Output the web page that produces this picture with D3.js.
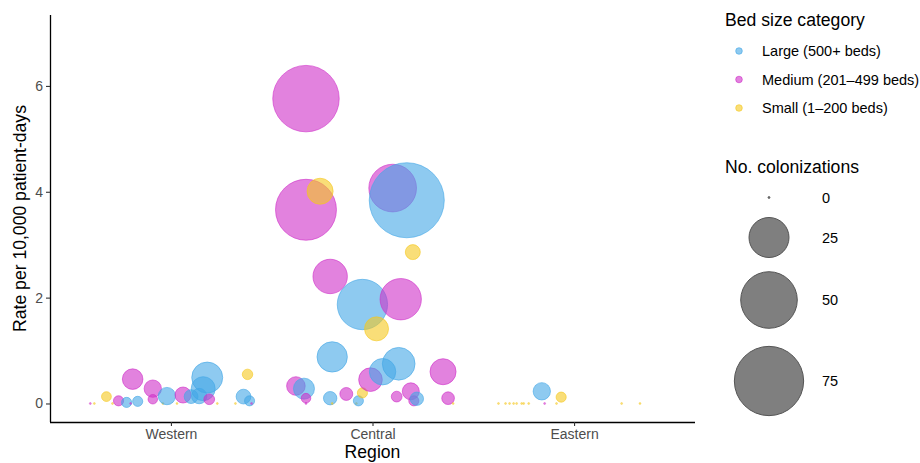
<!DOCTYPE html>
<html>
<head>
<meta charset="utf-8">
<script src="https://cdn.jsdelivr.net/npm/d3@7"></script>
<style>
  html, body { margin: 0; padding: 0; background: #fff; }
  svg { display: block; font-family: "Liberation Sans", Arial, sans-serif; }
</style>
</head>
<body>
<svg id="chart" width="920" height="463"></svg>
<script>
// ---------------- DATA ----------------
const regions = ["Western", "Central", "Eastern"];
const bedSizes = ["Large", "Medium", "Small"];
const bedSizeLabels = ["Large (500+ beds)", "Medium (201\u2013499 beds)", "Small (1\u2013200 beds)"];
const yTicks = [0, 2, 4, 6];
const sizeLegendValues = [0, 25, 50, 75];

// each point: [jitter offset (category units), rate per 10,000 patient-days, no. colonizations, bed size]
const westernPoints = [
  [-0.40, 0, 0, "Medium"], [-0.38, 0, 0, "Small"], [-0.32, 0.13, 1.5, "Small"],
  [-0.29, 0, 0, "Small"], [-0.26, 0.05, 1.6, "Medium"], [-0.22, 0.02, 1.6, "Large"],
  [-0.20, 0, 0, "Medium"], [-0.19, 0.46, 6.6, "Medium"], [-0.165, 0.04, 1.6, "Large"],
  [-0.09, 0.28, 4.7, "Medium"], [-0.09, 0.08, 1.4, "Medium"], [-0.04, 0, 0, "Small"],
  [-0.02, 0.14, 4.7, "Large"], [0.03, 0, 0, "Small"], [0.06, 0.16, 4, "Medium"],
  [0.10, 0.13, 3, "Large"], [0.14, 0.14, 3.7, "Large"], [0.16, 0.28, 9, "Large"],
  [0.18, 0.49, 15, "Large"], [0.19, 0.08, 1.8, "Medium"], [0.23, 0, 0, "Small"],
  [0.32, 0, 0, "Small"], [0.36, 0.13, 3.4, "Large"], [0.38, 0.55, 1.7, "Small"],
  [0.39, 0.05, 1.6, "Large"], [0.40, 0, 0, "Medium"]
];
const centralPoints = [
  [-0.38, 0.33, 5.4, "Medium"], [-0.34, 0.28, 6.9, "Large"], [-0.33, 0.10, 1.45, "Medium"],
  [-0.33, 0, 0, "Medium"], [-0.33, 5.76, 69, "Medium"], [-0.33, 3.66, 58, "Medium"],
  [-0.26, 4.01, 10.6, "Small"], [-0.21, 2.40, 18.5, "Medium"], [-0.21, 0.10, 2.8, "Large"],
  [-0.20, 0, 0, "Small"], [-0.20, 0.88, 14.4, "Large"], [-0.13, 0.18, 2.6, "Medium"],
  [-0.08, 0, 0, "Small"], [-0.07, 0.05, 1.6, "Large"], [-0.05, 0.20, 1.6, "Small"],
  [-0.05, 1.87, 39.6, "Large"], [-0.01, 0.45, 8.7, "Medium"], [0.02, 1.41, 9, "Small"],
  [0.05, 0.60, 10.9, "Large"], [0.10, 4.07, 35.5, "Medium"], [0.12, 0.13, 1.8, "Medium"],
  [0.13, 0.75, 16.7, "Large"], [0.14, 1.97, 26.7, "Medium"], [0.17, 3.84, 88, "Large"],
  [0.19, 0.23, 4.5, "Medium"], [0.20, 2.86, 3.5, "Small"], [0.205, 0.05, 1.6, "Medium"],
  [0.22, 0.09, 2.8, "Large"], [0.35, 0.60, 10.6, "Medium"], [0.375, 0.10, 2.5, "Medium"],
  [0.40, 0, 0, "Small"]
];
const easternPoints = [
  [-0.375, 0, 0, "Small"], [-0.34, 0, 0, "Small"], [-0.32, 0, 0, "Small"],
  [-0.30, 0, 0, "Small"], [-0.285, 0, 0, "Small"], [-0.26, 0, 0, "Small"],
  [-0.25, 0, 0, "Small"], [-0.225, 0, 0, "Small"], [-0.16, 0.23, 4.7, "Large"],
  [-0.146, 0, 0, "Medium"], [-0.087, 0, 0, "Small"], [-0.064, 0.12, 1.6, "Small"],
  [0.236, 0, 0, "Small"], [0.327, 0, 0, "Small"]
];
const regionPoints = [westernPoints, centralPoints, easternPoints];

// ---------------- STYLE / LAYOUT ----------------
const colors = { Large: "#43A7E6", Medium: "#CF2FC8", Small: "#F5C81E" };
const alpha = 0.6;
const panel = { left: 50, right: 695, top: 15, bottom: 422 };

const svg = d3.select("#chart");

const x = d3.scaleLinear().domain([0.4, 3.6]).range([panel.left, panel.right]);
const y = d3.scaleLinear().domain([-0.35, 7.34]).range([panel.bottom, panel.top]);
const r = d3.scaleSqrt().domain([0, 100]).range([0, 40]);
const radius = n => Math.max(r(n), 1);

// points
const points = [];
regionPoints.forEach((arr, i) => arr.forEach(p => points.push({
  region: regions[i], pos: i + 1 + p[0], rate: p[1], n: p[2], cat: p[3]
})));

svg.append("g").selectAll("circle").data(points).join("circle")
  .attr("cx", d => x(d.pos))
  .attr("cy", d => y(d.rate))
  .attr("r", d => radius(d.n))
  .attr("fill", d => colors[d.cat])
  .attr("fill-opacity", alpha)
  .attr("stroke", d => colors[d.cat])
  .attr("stroke-opacity", alpha)
  .attr("stroke-width", d => d.n === 0 ? 0.6 : 1);

// axes
const xAxis = d3.axisBottom(x).tickValues([1, 2, 3]).tickFormat(d => regions[d - 1]).tickSize(4).tickPadding(3);
const yAxis = d3.axisLeft(y).tickValues(yTicks).tickSize(4).tickPadding(3);

const gx = svg.append("g").attr("transform", `translate(0,${panel.bottom})`).call(xAxis);
const gy = svg.append("g").attr("transform", `translate(${panel.left},0)`).call(yAxis);

[gx, gy].forEach(g => {
  g.select(".domain").attr("stroke", "#000").attr("stroke-width", 1.3);
  g.selectAll(".tick line").attr("stroke", "#333").attr("stroke-width", 1.1);
  g.selectAll(".tick text").attr("fill", "#4d4d4d").style("font-size", "14px")
    .style("font-family", '"Liberation Sans", Arial, sans-serif');
});
gx.select(".domain").attr("d", `M${panel.left},0.5H${panel.right}`);
gy.select(".domain").attr("d", `M0.5,${panel.bottom}V${panel.top}`);

// axis titles
svg.append("text").attr("x", (panel.left + panel.right) / 2).attr("y", 458)
  .attr("text-anchor", "middle").style("font-size", "17.6px").attr("fill", "#000").text("Region");
svg.append("text").attr("transform", `translate(26,${(panel.top + panel.bottom) / 2}) rotate(-90)`)
  .attr("text-anchor", "middle").style("font-size", "17.6px").attr("fill", "#000")
  .text("Rate per 10,000 patient-days");

// legend: bed size
const lg = svg.append("g");
lg.append("text").attr("x", 725).attr("y", 26).style("font-size", "17.6px").attr("fill", "#000")
  .text("Bed size category");
const legY = [51, 79.5, 108];
bedSizes.forEach((b, i) => {
  lg.append("circle").attr("cx", 739).attr("cy", legY[i]).attr("r", 3.3)
    .attr("fill", colors[b]).attr("fill-opacity", alpha)
    .attr("stroke", colors[b]).attr("stroke-opacity", alpha).attr("stroke-width", 1);
  lg.append("text").attr("x", 762).attr("y", legY[i]).attr("dy", "0.35em")
    .style("font-size", "14.5px").attr("fill", "#000").text(bedSizeLabels[i]);
});

// legend: size
lg.append("text").attr("x", 725).attr("y", 173).style("font-size", "17.6px").attr("fill", "#000")
  .text("No. colonizations");
const sizeY = [197.5, 237.5, 300, 381];
sizeLegendValues.forEach((v, i) => {
  lg.append("circle").attr("cx", 769).attr("cy", sizeY[i]).attr("r", v === 0 ? 0.9 : r(v))
    .attr("fill", "#7f7f7f").attr("stroke", "#555").attr("stroke-width", 1);
  lg.append("text").attr("x", 822).attr("y", sizeY[i]).attr("dy", "0.35em")
    .style("font-size", "14.5px").attr("fill", "#000").text(v);
});
</script>
</body>
</html>
